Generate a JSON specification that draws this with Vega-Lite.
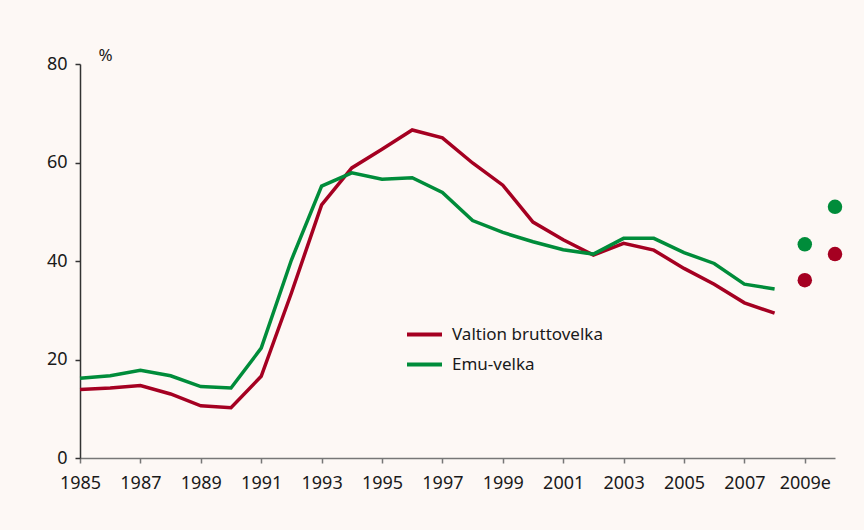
{
  "$schema": "https://vega.github.io/schema/vega-lite/v6.json",
  "width": 755,
  "height": 394,
  "autosize": {"type": "none"},
  "padding": {"left": 80, "top": 64, "right": 29, "bottom": 72},
  "background": "#fdf8f5",
  "config": {
    "view": {"stroke": null},
    "font": "Noto Sans",
    "axis": {"labelFont": "Noto Sans", "labelFontSize": 18, "labelColor": "#1a1a1a", "grid": false, "domainColor": "#555555", "tickColor": "#555555", "tickSize": 5, "domainWidth": 1.5, "tickWidth": 1.5, "labelFlush": false, "labelOverlap": false}
  },
  "datasets": {
    "lines": [
      {"year": 1985, "series": "Valtion bruttovelka", "value": 13.9},
      {"year": 1986, "series": "Valtion bruttovelka", "value": 14.2},
      {"year": 1987, "series": "Valtion bruttovelka", "value": 14.7},
      {"year": 1988, "series": "Valtion bruttovelka", "value": 13.0},
      {"year": 1989, "series": "Valtion bruttovelka", "value": 10.6},
      {"year": 1990, "series": "Valtion bruttovelka", "value": 10.2},
      {"year": 1991, "series": "Valtion bruttovelka", "value": 16.6},
      {"year": 1992, "series": "Valtion bruttovelka", "value": 33.5},
      {"year": 1993, "series": "Valtion bruttovelka", "value": 51.4},
      {"year": 1994, "series": "Valtion bruttovelka", "value": 58.9},
      {"year": 1995, "series": "Valtion bruttovelka", "value": 62.7},
      {"year": 1996, "series": "Valtion bruttovelka", "value": 66.6},
      {"year": 1997, "series": "Valtion bruttovelka", "value": 65.0},
      {"year": 1998, "series": "Valtion bruttovelka", "value": 59.9},
      {"year": 1999, "series": "Valtion bruttovelka", "value": 55.4},
      {"year": 2000, "series": "Valtion bruttovelka", "value": 47.9},
      {"year": 2001, "series": "Valtion bruttovelka", "value": 44.3},
      {"year": 2002, "series": "Valtion bruttovelka", "value": 41.2},
      {"year": 2003, "series": "Valtion bruttovelka", "value": 43.6},
      {"year": 2004, "series": "Valtion bruttovelka", "value": 42.2},
      {"year": 2005, "series": "Valtion bruttovelka", "value": 38.5},
      {"year": 2006, "series": "Valtion bruttovelka", "value": 35.3},
      {"year": 2007, "series": "Valtion bruttovelka", "value": 31.5},
      {"year": 2008, "series": "Valtion bruttovelka", "value": 29.4},
      {"year": 1985, "series": "Emu-velka", "value": 16.2},
      {"year": 1986, "series": "Emu-velka", "value": 16.7},
      {"year": 1987, "series": "Emu-velka", "value": 17.8},
      {"year": 1988, "series": "Emu-velka", "value": 16.7},
      {"year": 1989, "series": "Emu-velka", "value": 14.5},
      {"year": 1990, "series": "Emu-velka", "value": 14.2},
      {"year": 1991, "series": "Emu-velka", "value": 22.3},
      {"year": 1992, "series": "Emu-velka", "value": 40.2},
      {"year": 1993, "series": "Emu-velka", "value": 55.2},
      {"year": 1994, "series": "Emu-velka", "value": 57.9},
      {"year": 1995, "series": "Emu-velka", "value": 56.6},
      {"year": 1996, "series": "Emu-velka", "value": 56.9},
      {"year": 1997, "series": "Emu-velka", "value": 53.9},
      {"year": 1998, "series": "Emu-velka", "value": 48.2},
      {"year": 1999, "series": "Emu-velka", "value": 45.8},
      {"year": 2000, "series": "Emu-velka", "value": 43.9},
      {"year": 2001, "series": "Emu-velka", "value": 42.3},
      {"year": 2002, "series": "Emu-velka", "value": 41.4},
      {"year": 2003, "series": "Emu-velka", "value": 44.6},
      {"year": 2004, "series": "Emu-velka", "value": 44.6},
      {"year": 2005, "series": "Emu-velka", "value": 41.7},
      {"year": 2006, "series": "Emu-velka", "value": 39.5},
      {"year": 2007, "series": "Emu-velka", "value": 35.3},
      {"year": 2008, "series": "Emu-velka", "value": 34.3}
    ],
    "points": [
      {"year": 2009, "series": "Valtion bruttovelka", "value": 36.1},
      {"year": 2010, "series": "Valtion bruttovelka", "value": 41.4},
      {"year": 2009, "series": "Emu-velka", "value": 43.4},
      {"year": 2010, "series": "Emu-velka", "value": 51.0}
    ]
  },
  "encoding": {
    "x": {
      "field": "year", "type": "quantitative",
      "scale": {"domain": [1985, 2010], "nice": false, "zero": false},
      "axis": {"title": null, "values": [1985,1987,1989,1991,1993,1995,1997,1999,2001,2003,2005,2007,2009], "format": "d", "labelExpr": "datum.value == 2009 ? '2009e' : datum.label", "labelPadding": 11, "domainColor": "#777777", "tickColor": "#777777"}
    },
    "y": {
      "field": "value", "type": "quantitative",
      "scale": {"domain": [0, 80], "nice": false},
      "axis": {"values": [0,20,40,60,80], "title": "%", "titleAngle": 0, "titleFont": "Noto Sans", "titleFontSize": 17, "titleFontWeight": "normal", "titleColor": "#1a1a1a", "titleX": 18, "titleY": -4, "titleAlign": "left", "titleBaseline": "alphabetic", "labelPadding": 8, "domainColor": "#333333", "tickColor": "#333333"}
    },
    "color": {
      "field": "series", "type": "nominal",
      "scale": {"domain": ["Valtion bruttovelka", "Emu-velka"], "range": ["#a50021", "#008c3a"]}
    }
  },
  "layer": [
    {
      "data": {"name": "lines"},
      "mark": {"type": "line", "strokeWidth": 3.5},
      "encoding": {
        "color": {
          "field": "series", "type": "nominal",
          "legend": {"title": null, "orient": "none", "legendX": 325, "legendY": 251, "symbolType": "stroke", "symbolSize": 1225, "symbolStrokeWidth": 4, "labelFont": "Noto Sans", "labelFontSize": 17, "labelColor": "#1a1a1a", "labelOffset": 8, "rowPadding": 2}
        }
      }
    },
    {
      "data": {"name": "points"},
      "mark": {"type": "circle", "size": 210, "opacity": 1},
      "encoding": {"color": {"field": "series", "type": "nominal", "legend": null}}
    }
  ]
}
